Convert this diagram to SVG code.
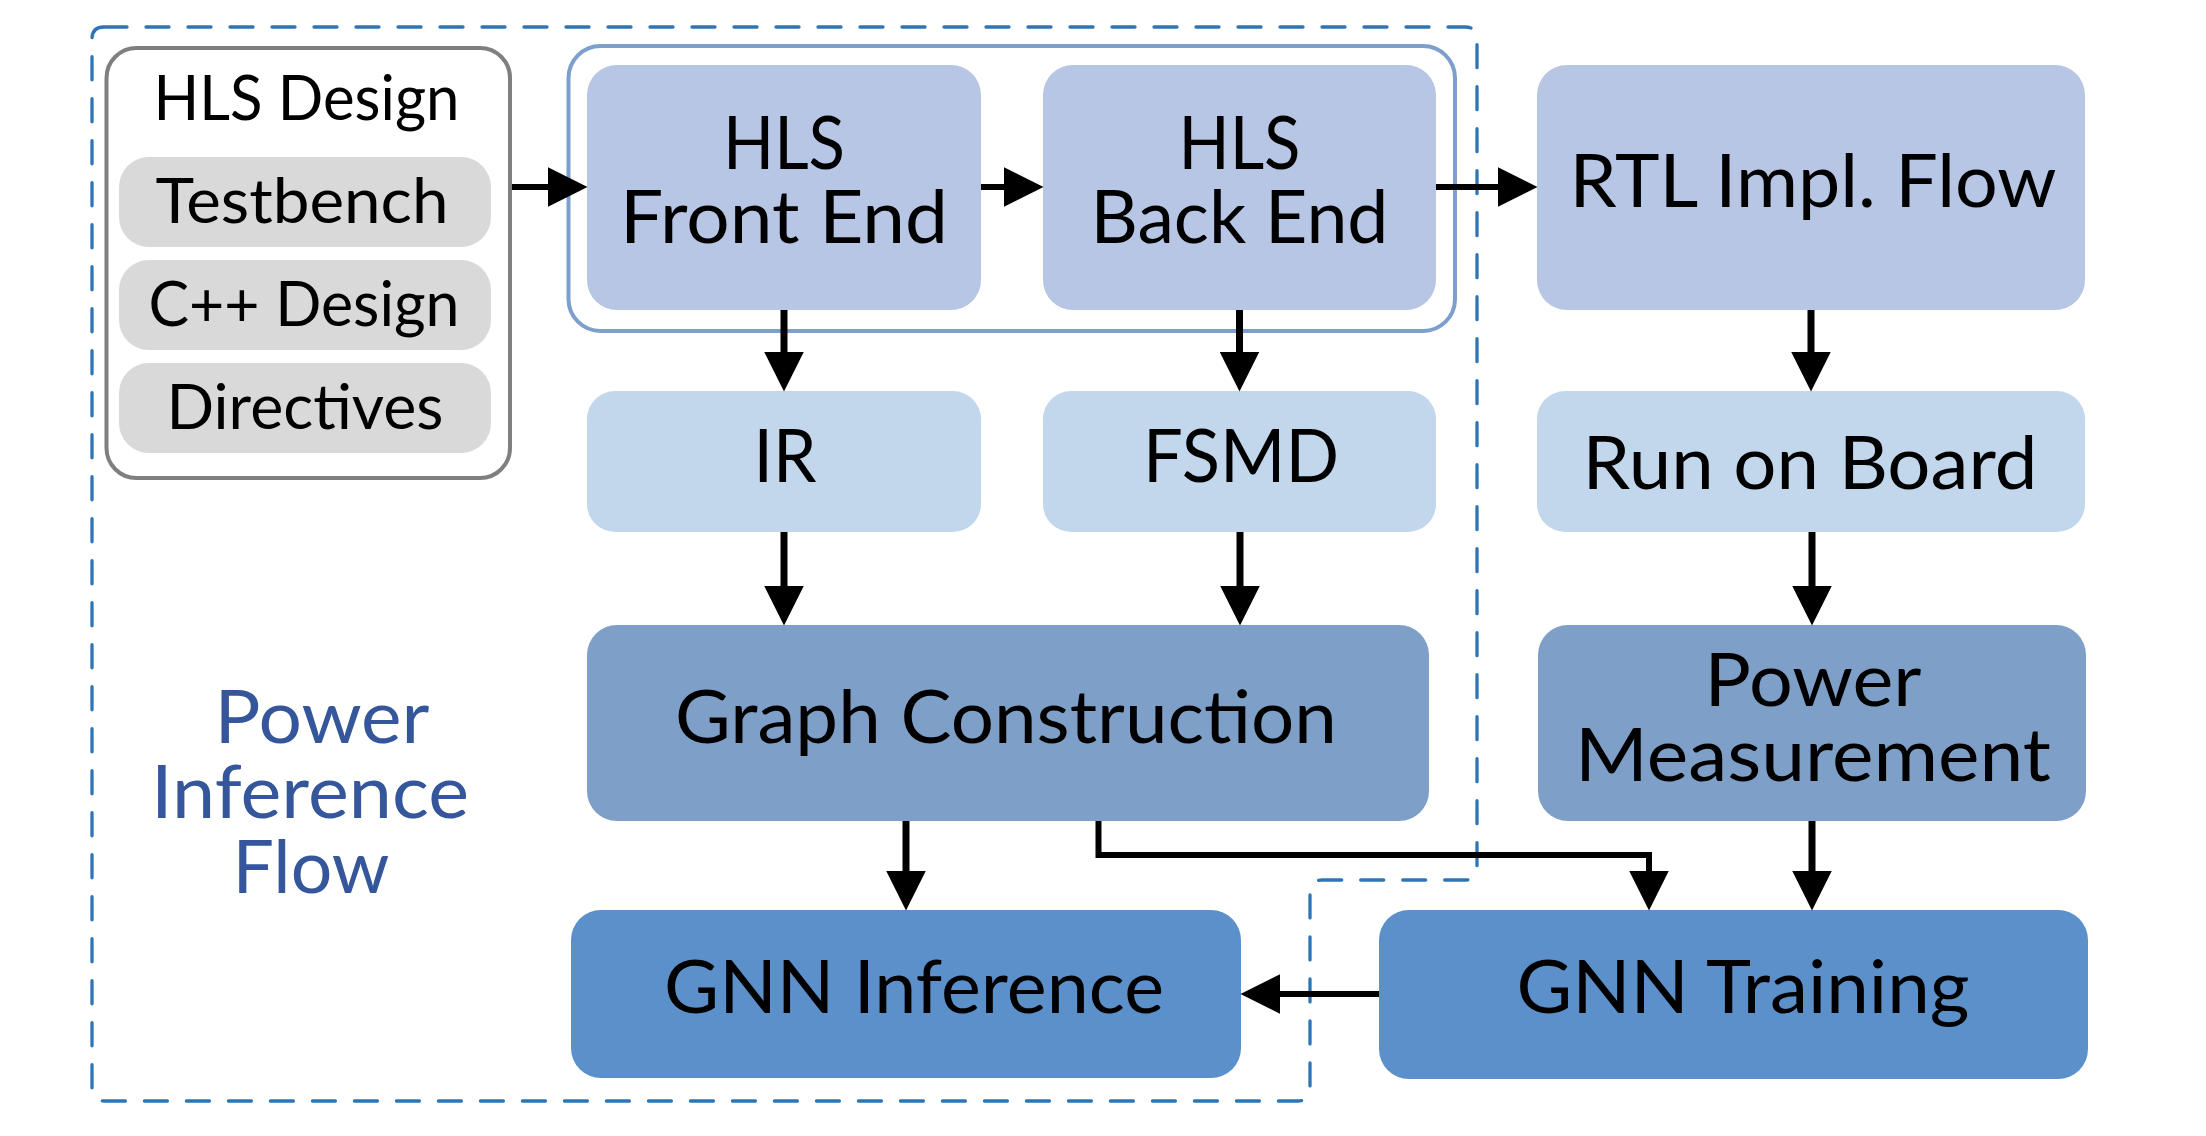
<svg xmlns="http://www.w3.org/2000/svg" width="2206" height="1136" viewBox="0 0 2206 1136">
<defs>
<style>
text { font-family: Lato, "Open Sans", "Liberation Sans", sans-serif; fill: #000; text-anchor: middle; }
.big { font-size: 74px; }
.small { font-size: 62px; }
.blue { fill: #35569a; }
.c1 { fill: #b7c6e4; }
.c2 { fill: #c3d7ec; }
.c3 { fill: #7e9fc8; }
.c4 { fill: #5b90ca; }
.pill { fill: #d9d9d9; }
.conn { fill: none; stroke: #000; stroke-width: 6; }
.v { stroke-width: 7; }
</style>
<marker id="arrow" markerUnits="userSpaceOnUse" markerWidth="40" markerHeight="40" viewBox="0 0 38 38" refX="28" refY="19" orient="auto">
<path d="M0,0 L38,19 L0,38 Z" fill="#000"/>
</marker>
</defs>
<rect width="2206" height="1136" fill="#fff"/>

<g id="power-inference-flow-region">
<path d="M104,27 H1465 Q1477,27 1477,39 V868 Q1477,880 1465,880 H1322 Q1310,880 1310,892 V1089 Q1310,1101 1298,1101 H104 Q92,1101 92,1089 V39 Q92,27 104,27 Z" fill="none" stroke="#2e75b6" stroke-width="3.3" stroke-dasharray="23 19" stroke-linecap="round"/>
<text class="big blue" x="322" y="743" textLength="215" lengthAdjust="spacingAndGlyphs">Power</text>
<text class="big blue" x="310" y="818" textLength="318" lengthAdjust="spacingAndGlyphs">Inference</text>
<text class="big blue" x="311" y="893" textLength="157" lengthAdjust="spacingAndGlyphs">Flow</text>
</g>

<g id="hls-design">
<rect x="106.5" y="48" width="403.5" height="430" rx="30" fill="#fff" stroke="#7f7f7f" stroke-width="4"/>
<text class="small" x="306.5" y="120" textLength="306" lengthAdjust="spacingAndGlyphs">HLS Design</text>
</g>
<g id="testbench">
<rect class="pill" x="119" y="157" width="372" height="90" rx="30"/>
<text class="small" x="302" y="223" textLength="293" lengthAdjust="spacingAndGlyphs">Testbench</text>
</g>
<g id="cpp-design">
<rect class="pill" x="119" y="260" width="372" height="90" rx="30"/>
<text class="small" x="304" y="326" textLength="311" lengthAdjust="spacingAndGlyphs">C++ Design</text>
</g>
<g id="directives">
<rect class="pill" x="119" y="363" width="372" height="90" rx="30"/>
<text class="small" x="305" y="429" textLength="277" lengthAdjust="spacingAndGlyphs">Directives</text>
</g>

<g id="hls-group">
<rect x="568.5" y="46" width="886.5" height="285" rx="32" fill="none" stroke="#7d9fcb" stroke-width="4"/>
</g>
<g id="hls-front-end">
<rect class="c1" x="587" y="65" width="394" height="245" rx="30"/>
<text class="big" x="784" y="169" textLength="122" lengthAdjust="spacingAndGlyphs">HLS</text>
<text class="big" x="784" y="243" textLength="328" lengthAdjust="spacingAndGlyphs">Front End</text>
</g>
<g id="hls-back-end">
<rect class="c1" x="1043" y="65" width="393" height="245" rx="30"/>
<text class="big" x="1239.5" y="169" textLength="122" lengthAdjust="spacingAndGlyphs">HLS</text>
<text class="big" x="1239.5" y="243" textLength="298" lengthAdjust="spacingAndGlyphs">Back End</text>
</g>
<g id="rtl-impl-flow">
<rect class="c1" x="1537" y="65" width="548" height="245" rx="30"/>
<text class="big" x="1813" y="207" textLength="487" lengthAdjust="spacingAndGlyphs">RTL Impl. Flow</text>
</g>
<g id="ir">
<rect class="c2" x="587" y="391" width="394" height="141" rx="28"/>
<text class="big" x="785" y="482" textLength="63" lengthAdjust="spacingAndGlyphs">IR</text>
</g>
<g id="fsmd">
<rect class="c2" x="1043" y="391" width="393" height="141" rx="28"/>
<text class="big" x="1241" y="482" textLength="196" lengthAdjust="spacingAndGlyphs">FSMD</text>
</g>
<g id="run-on-board">
<rect class="c2" x="1537" y="391" width="548" height="141" rx="28"/>
<text class="big" x="1810" y="489" textLength="455" lengthAdjust="spacingAndGlyphs">Run on Board</text>
</g>
<g id="graph-construction">
<rect class="c3" x="587" y="625" width="842" height="196" rx="30"/>
<text class="big" x="1006" y="743" textLength="662" lengthAdjust="spacingAndGlyphs">Graph Construction</text>
</g>
<g id="power-measurement">
<rect class="c3" x="1538" y="625" width="548" height="196" rx="30"/>
<text class="big" x="1813" y="706" textLength="217" lengthAdjust="spacingAndGlyphs">Power</text>
<text class="big" x="1813" y="781" textLength="476" lengthAdjust="spacingAndGlyphs">Measurement</text>
</g>
<g id="gnn-inference">
<rect class="c4" x="571" y="910" width="670" height="168" rx="30"/>
<text class="big" x="914" y="1013" textLength="500" lengthAdjust="spacingAndGlyphs">GNN Inference</text>
</g>
<g id="gnn-training">
<rect class="c4" x="1379" y="910" width="709" height="169" rx="30"/>
<text class="big" x="1743" y="1013" textLength="453" lengthAdjust="spacingAndGlyphs">GNN Training</text>
</g>

<g id="connectors">
<path class="conn" d="M512,187 H577" marker-end="url(#arrow)"/>
<path class="conn" d="M981,187 H1033" marker-end="url(#arrow)"/>
<path class="conn" d="M1436,187 H1527" marker-end="url(#arrow)"/>
<path class="conn v" d="M784,310 V381" marker-end="url(#arrow)"/>
<path class="conn v" d="M1239.5,310 V381" marker-end="url(#arrow)"/>
<path class="conn v" d="M1811,310 V381" marker-end="url(#arrow)"/>
<path class="conn v" d="M784,532 V615" marker-end="url(#arrow)"/>
<path class="conn v" d="M1240,532 V615" marker-end="url(#arrow)"/>
<path class="conn v" d="M1812,532 V615" marker-end="url(#arrow)"/>
<path class="conn v" d="M906,821 V900" marker-end="url(#arrow)"/>
<path class="conn" d="M1098.5,821 V855 H1649 V900" marker-end="url(#arrow)"/>
<path class="conn v" d="M1812,821 V900" marker-end="url(#arrow)"/>
<path class="conn" d="M1379,994 H1251" marker-end="url(#arrow)"/>
</g>
</svg>
